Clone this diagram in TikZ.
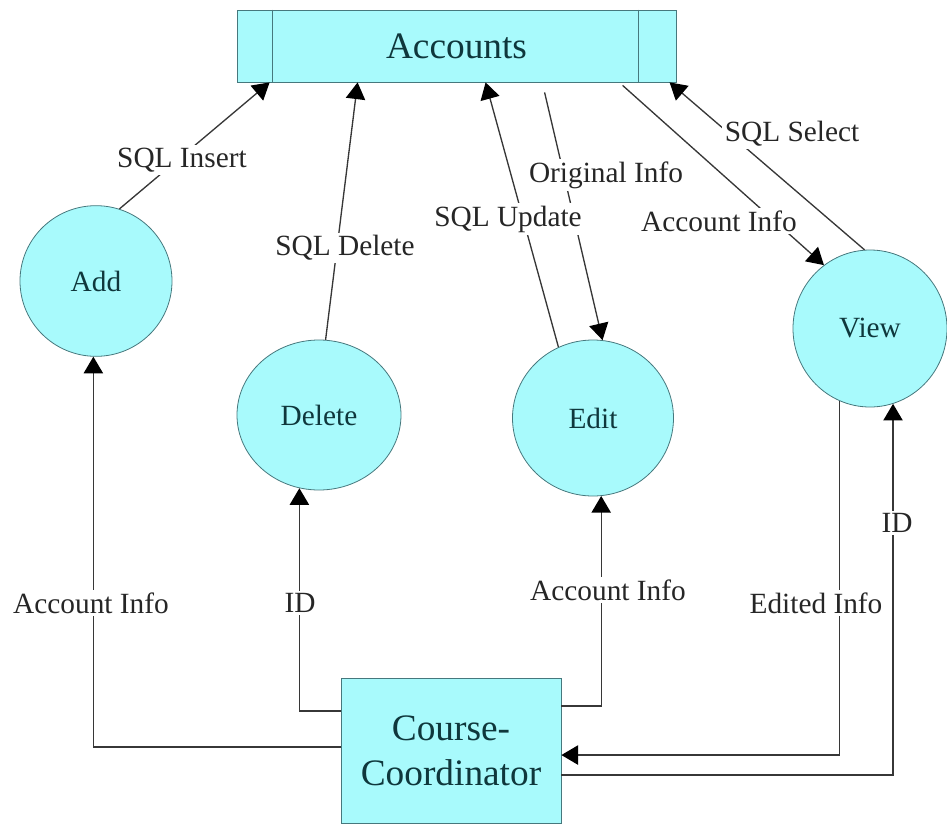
\documentclass[tikz,border=0pt]{standalone}
\usepackage{fontspec}
\setmainfont{Liberation Serif}
\usetikzlibrary{shapes.geometric,arrows.meta,calc}

\definecolor{procfill}{RGB}{168,250,252}
\definecolor{procedge}{RGB}{70,120,125}
\definecolor{proctext}{RGB}{15,55,60}
\definecolor{wire}{RGB}{55,55,55}

\tikzset{
  process/.style={ellipse, draw=procedge, fill=procfill, line width=0.6pt,
    inner sep=0pt, text=proctext, font=\fontsize{22}{26}\selectfont},
  store/.style={rectangle, draw=procedge, fill=procfill, line width=0.6pt,
    inner sep=0pt, text=proctext, align=center,
    font=\fontsize{28}{34}\selectfont},
  flow/.style={draw=wire, line width=1pt,
    -{Triangle[length=12.5pt,width=14.5pt,black]}},
  flowlabel/.style={fill=white, inner sep=2pt, text=black!85,
    font=\fontsize{22}{26}\selectfont}
}

\begin{document}
\begin{tikzpicture}[x=0.75pt,y=-0.75pt]
  \useasboundingbox (0,0) rectangle (947,825);

  % data store and external entity
  \node[store, minimum width=329.25pt, minimum height=54pt] (acc) at (456.5,46) {Accounts};
  \draw[procedge, line width=0.6pt]
    ($(acc.north west)+(36,0)$) -- ($(acc.south west)+(36,0)$)
    ($(acc.north east)+(-38,0)$) -- ($(acc.south east)+(-38,0)$);
  \node[store, minimum width=165pt, minimum height=108.75pt] (cc) at (451,750.5) {Course-\\Coordinator};

  % processes
  \node[process, minimum width=114pt, minimum height=113pt] (add) at (96,281) {Add};
  \node[process, minimum width=123pt, minimum height=112.5pt] (del) at (319,415) {Delete};
  \node[process, minimum width=120.75pt, minimum height=117pt] (edit) at (593,418) {Edit};
  \node[process, minimum width=115.5pt, minimum height=117.75pt] (view) at (870,328.5) {View};

  % attachment points along the bottom of the store
  \coordinate (tA) at ($(acc.south west)+(33,0)$);
  \coordinate (tD) at ($(acc.south west)+(121,0)$);
  \coordinate (tU) at ($(acc.south west)+(249,0)$);
  \coordinate (sO) at ($(acc.south west)+(308,10)$);
  \coordinate (sA) at ($(acc.south west)+(386,3)$);
  \coordinate (tS) at ($(acc.south west)+(433,0)$);

  % flows to and from the store
  \draw[flow] (add.72) -- (tA);
  \draw[flow] (del.85) -- (tD);
  \draw[flow] (edit.116) -- (tU);
  \draw[flow] (sO) -- (edit.83);
  \draw[flow] (sA) -- (view.126);
  \draw[flow] (view.94) -- (tS);

  % flows to and from the coordinator
  \draw[flow] ([yshift=2.6pt]cc.west) -| (add.268);
  \draw[flow] ([yshift=29.6pt]cc.west) -| (del.255);
  \draw[flow] ([yshift=33.4pt]cc.east) -| (edit.276);
  \draw[flow] (view.247) |- ([yshift=-3.4pt]cc.east);
  \draw[flow] ([yshift=-18.4pt]cc.east) -| (view.287);

  % flow labels
  \node[flowlabel] (lIns) at (182,160) {SQL Insert};
  \node[flowlabel] (lDel) at (345,248) {SQL Delete};
  \node[flowlabel] (lOrig) at (606,175) {Original Info};
  \node[flowlabel] (lUpd) at (508,219) {SQL Update};
  \node[flowlabel] (lAcc) at (719,221) {Account Info};
  \node[flowlabel] (lSel) at (792,134) {SQL Select};
  \node[flowlabel] (lAdd) at (91,603) {Account Info};
  \node[flowlabel] (lID) at (300,603) {ID};
  \node[flowlabel] (lEdit) at (608,590) {Account Info};
  \node[flowlabel] (lEdited) at (816,603) {Edited Info};
  \node[flowlabel] (lVID) at (897,523) {ID};
\end{tikzpicture}
\end{document}
